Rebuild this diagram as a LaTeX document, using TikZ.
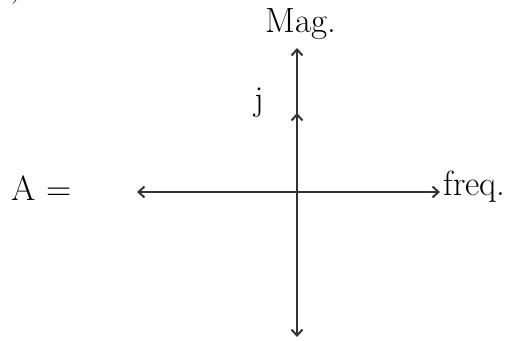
\documentclass[tikz,border=0pt]{standalone}
\usepackage{amsmath,amssymb}
\usepackage{tikz}
\usetikzlibrary{arrows.meta}

\tikzset{
	axis/.style={line width=1pt, black!80, -{Straight Barb[length=3pt,width=5.5pt]}},
	lbl/.style={font=\fontsize{17.5}{21}\selectfont, inner sep=0pt, anchor=base}
}

\begin{document}
\begin{tikzpicture}[x=0.5pt, y=-0.5pt]
	\useasboundingbox (0,0) rectangle (515,341);
	% axes end points
	\coordinate (O) at (297,192);
	\coordinate (west) at (137,192);
	\coordinate (east) at (440,192);
	\coordinate (north) at (297,48);
	\coordinate (south) at (297,337);
	\coordinate (jtip) at (297,113);
	% labels
	\node[lbl] (cut) at (18,-4) {)};
	\node[lbl] (mag) at (301,33) {Mag.};
	\node[lbl] (j) at (259,111) {j};
	\node[lbl, anchor=base west] (A) at (11,201) {A =};
	\node[lbl, anchor=base west] (freq) at (443,196) {freq.};
	% axes
	\draw[axis, {Straight Barb[length=3pt,width=5.5pt]}-{Straight Barb[length=3pt,width=5.5pt]}] (west) -- (east);
	\draw[axis, {Straight Barb[length=3pt,width=5.5pt]}-{Straight Barb[length=3pt,width=5.5pt]}] (south) -- (north);
	\draw[axis] (O) -- (jtip);
\end{tikzpicture}
\end{document}
